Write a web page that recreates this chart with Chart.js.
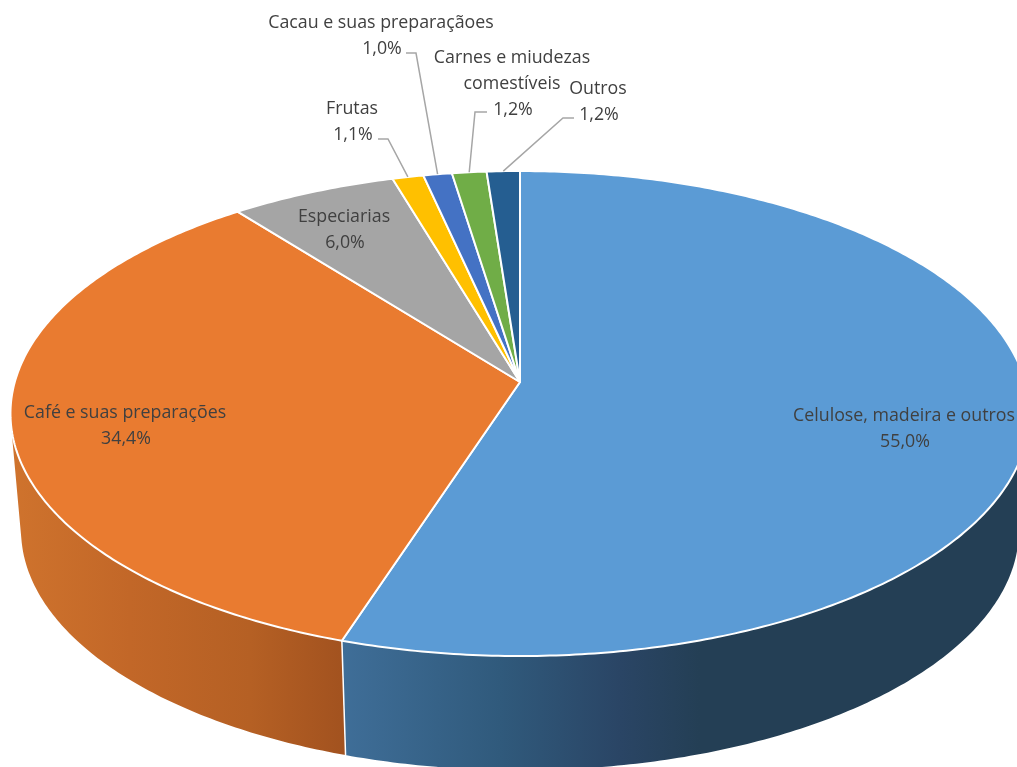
<!DOCTYPE html>
<html lang="pt">
<head>
    <meta charset="UTF-8">
    <title>Exportações</title>
    <script src="https://cdn.jsdelivr.net/npm/chart.js"></script>
    <style>
        html, body { margin: 0; padding: 0; background: #fff; overflow: hidden; }
        canvas { display: block; filter: blur(0.45px); }
    </style>
</head>
<body>
    <canvas id="pie" width="1017" height="767"></canvas>
    <script>
        const categories = [
            ['Celulose, madeira e outros'],
            ['Café e suas preparações'],
            ['Especiarias'],
            ['Frutas'],
            ['Cacau e suas preparaçãoes'],
            ['Carnes e miudezas', 'comestíveis'],
            ['Outros']
        ];
        // they print as 55,0 34,4 6,0 1,1 1,0 1,2 1,2
        const shares = [55.0, 34.43, 5.99, 1.12, 1.03, 1.24, 1.19];
        const sliceColors = ['#5B9BD5', '#E97B30', '#A5A5A5', '#FFC000', '#4472C4', '#70AD47', '#255E91'];

        // side wall shading, left to right: [x, colour]
        const wallShades = [
            [[342, '#3F6E98'], [500, '#305A7C'], [620, '#2A4565'], [700, '#243F55'], [1017, '#243F55']],
            [[12, '#CF732D'], [130, '#C26728'], [250, '#B56024'], [345, '#A2521F']],
            [[0, '#7A7A7A']], [[0, '#BF9000']], [[0, '#335593']], [[0, '#548235']], [[0, '#1C466D']]
        ];

        // where each label sits: text centre x, first line y
        const labelSpots = [
            { x: 904, y: 416 },
            { x: 125, y: 413 },
            { x: 344, y: 217 },
            { x: 352, y: 109 },
            { x: 381, y: 23 },
            { x: 512, y: 58 },
            { x: 598, y: 89 }
        ];
        // leader lines: text-side end and elbow, the pie end comes from the slice
        const leaders = [
            null, null, null,
            [[378, 139], [388, 139]],
            [[406, 53], [416, 53]],
            [[487, 112], [475, 112]],
            [[574, 118], [563, 118]]
        ];

        const LINE_H = 26;
        const DEPTH_K = -0.13; // how much nearer the front edge looks

        // tilted disc: r 0..1, angle in radians from the top going clockwise
        function project(face, angle, r) {
            const u = Math.sin(angle) * r;
            const v = -Math.cos(angle) * r;
            const d = 1 + DEPTH_K * v;
            return { x: face.x + face.a * u / d, y: face.y + face.b * v / d };
        }
        const topFace = { x: 520, y: 382, a: 505.2, b: 238.4 };
        const bottomFace = { x: 520, y: 499, a: 494.7, b: 236 };

        function edgePoints(face, from, to) {
            const pts = [];
            const n = Math.max(2, Math.ceil((to - from) * 90));
            for (let i = 0; i <= n; i++) {
                pts.push(project(face, from + (to - from) * i / n, 1));
            }
            return pts;
        }

        function tracePath(ctx, pts) {
            ctx.beginPath();
            pts.forEach((p, i) => i ? ctx.lineTo(p.x, p.y) : ctx.moveTo(p.x, p.y));
            ctx.closePath();
        }

        function signedArea(q) {
            let s = 0;
            q.forEach((p, i) => {
                const n = q[(i + 1) % q.length];
                s += p.x * n.y - n.x * p.y;
            });
            return s;
        }

        const tiltedPie = {
            id: 'tiltedPie',
            // the library worked out the slice angles, we only project them
            beforeDatasetDraw(chart) {
                const ctx = chart.ctx;
                const arcs = chart.getDatasetMeta(0).data;
                const turn = Math.PI / 2;
                ctx.save();
                ctx.lineJoin = 'round';
                ctx.strokeStyle = '#fff';

                arcs.forEach((arc, i) => {
                    const from = arc.startAngle + turn, to = arc.endAngle + turn;
                    const top = edgePoints(topFace, from, to), bottom = edgePoints(bottomFace, from, to);
                    const stops = wallShades[i];
                    const last = stops[stops.length - 1][0] + 1;
                    const grad = ctx.createLinearGradient(stops[0][0], 0, last, 0);
                    stops.forEach(s => grad.addColorStop((s[0] - stops[0][0]) / (last - stops[0][0]), s[1]));
                    // sweep small quads so the silhouette between the two rims is filled too,
                    // all wound the same way or the fold at the sides cancels out
                    ctx.beginPath();
                    for (let k = 0; k < top.length - 1; k++) {
                        const q = [top[k], top[k + 1], bottom[k + 1], bottom[k]];
                        if (signedArea(q) < 0) q.reverse();
                        q.forEach((p, j) => j ? ctx.lineTo(p.x, p.y) : ctx.moveTo(p.x, p.y));
                        ctx.closePath();
                    }
                    ctx.fillStyle = grad;
                    ctx.fill();
                    // only the seams between slices get a white line
                    ctx.beginPath();
                    ctx.moveTo(top[0].x, top[0].y);
                    ctx.lineTo(bottom[0].x, bottom[0].y);
                    ctx.lineWidth = 1.5;
                    ctx.stroke();
                });

                arcs.forEach((arc, i) => {
                    const from = arc.startAngle + turn, to = arc.endAngle + turn;
                    tracePath(ctx, [{ x: topFace.x, y: topFace.y }].concat(edgePoints(topFace, from, to)));
                    ctx.fillStyle = arc.options.backgroundColor;
                    ctx.fill();
                    ctx.lineWidth = 2;
                    ctx.stroke();
                });
                ctx.restore();
                return false;
            },
            afterDatasetsDraw(chart) {
                const ctx = chart.ctx;
                const arcs = chart.getDatasetMeta(0).data;
                ctx.save();
                ctx.strokeStyle = '#A6A6A6';
                ctx.lineWidth = 1.5;
                leaders.forEach((line, i) => {
                    if (!line) return;
                    const mid = (arcs[i].startAngle + arcs[i].endAngle) / 2 + Math.PI / 2;
                    const end = project(topFace, mid, 1);
                    ctx.beginPath();
                    ctx.moveTo(line[0][0], line[0][1]);
                    ctx.lineTo(line[1][0], line[1][1]);
                    ctx.lineTo(end.x, end.y);
                    ctx.stroke();
                });

                ctx.font = '17.8px "Open Sans"';
                ctx.fillStyle = '#404040';
                ctx.textAlign = 'center';
                ctx.textBaseline = 'middle';
                categories.forEach((lines, i) => {
                    const spot = labelSpots[i];
                    lines.forEach((t, j) => ctx.fillText(t, spot.x, spot.y + j * LINE_H));
                    const pct = shares[i].toFixed(1).replace('.', ',') + '%';
                    ctx.fillText(pct, spot.x + 1, spot.y + lines.length * LINE_H);
                });
                ctx.restore();
            }
        };

        new Chart(document.getElementById('pie').getContext('2d'), {
            type: 'pie',
            data: {
                labels: categories,
                datasets: [{ data: shares, backgroundColor: sliceColors, borderWidth: 0 }]
            },
            options: {
                responsive: false,
                animation: false,
                plugins: { legend: { display: false }, tooltip: { enabled: false } }
            },
            plugins: [tiltedPie]
        });
    </script>
</body>
</html>
